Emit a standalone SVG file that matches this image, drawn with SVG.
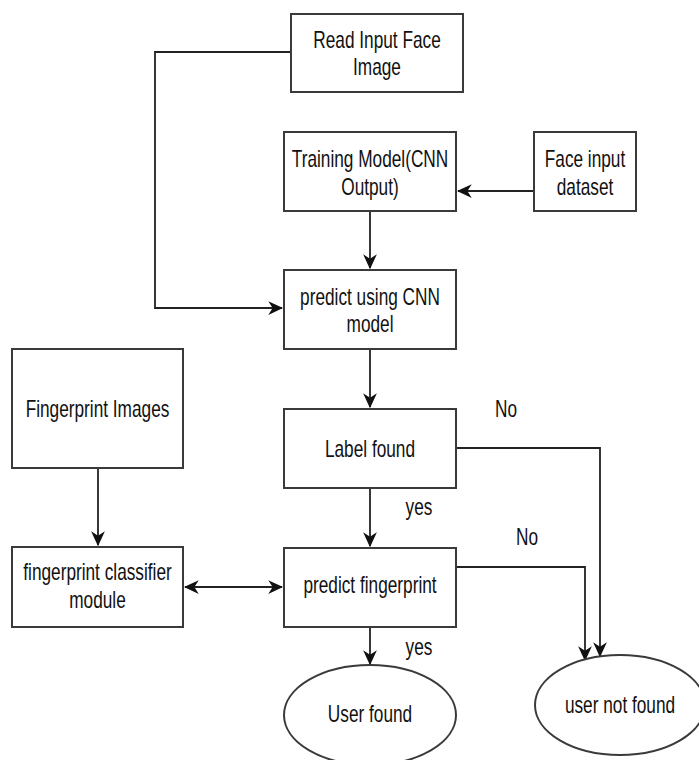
<svg xmlns="http://www.w3.org/2000/svg" width="699" height="760" viewBox="0 0 699 760">
<defs>
<marker id="arr" markerUnits="userSpaceOnUse" markerWidth="15" markerHeight="15" viewBox="0 0 12 12" refX="11" refY="6" orient="auto-start-reverse">
<path d="M0,0.5 L12,6 L0,11.5 L3.5,6 z" fill="#111"/>
</marker>
<style>
.box{fill:#fff;stroke:#3a3a3a;stroke-width:2}
.t{font-family:"Liberation Sans",Arial,sans-serif;font-size:23px;fill:#111;text-anchor:middle}
.c{fill:none;stroke:#222;stroke-width:1.8}
</style>
</defs>
<rect width="699" height="760" fill="#fff"/>
<g id="connectors">
<path class="c" d="M291,52 H155 V308 H282" marker-end="url(#arr)"/>
<path class="c" d="M534,191 H458" marker-end="url(#arr)"/>
<path class="c" d="M370,211 V268" marker-end="url(#arr)"/>
<path class="c" d="M370,349 V407" marker-end="url(#arr)"/>
<path class="c" d="M370,488 V546" marker-end="url(#arr)"/>
<path class="c" d="M370,627 V664" marker-end="url(#arr)"/>
<path class="c" d="M98,468 V545" marker-end="url(#arr)"/>
<path class="c" d="M185,587 H282" marker-start="url(#arr)" marker-end="url(#arr)"/>
<path class="c" d="M456,448 H600 V656" marker-end="url(#arr)"/>
<path class="c" d="M456,567 H585 V660" marker-end="url(#arr)"/>
<g id="edge-labels">
<text class="t" transform="translate(506,417) scale(0.75,1)">No</text>
<text class="t" transform="translate(419,515) scale(0.75,1)">yes</text>
<text class="t" transform="translate(527,545) scale(0.75,1)">No</text>
<text class="t" transform="translate(419,655) scale(0.75,1)">yes</text>
</g>
</g>
<g id="read-input">
<rect class="box" x="291" y="14" width="172" height="78"/>
<text class="t" transform="translate(377,48) scale(0.75,1)">Read Input Face</text>
<text class="t" transform="translate(377,75) scale(0.75,1)">Image</text>
</g>
<g id="training">
<rect class="box" x="284" y="132" width="172" height="79"/>
<text class="t" transform="translate(370,167) scale(0.75,1)">Training Model(CNN</text>
<text class="t" transform="translate(370,195) scale(0.75,1)">Output)</text>
</g>
<g id="face-dataset">
<rect class="box" x="534" y="132" width="102" height="79"/>
<text class="t" transform="translate(585,167) scale(0.75,1)">Face input</text>
<text class="t" transform="translate(585,195) scale(0.75,1)">dataset</text>
</g>
<g id="predict-cnn">
<rect class="box" x="284" y="270" width="172" height="79"/>
<text class="t" transform="translate(370,305) scale(0.75,1)">predict using CNN</text>
<text class="t" transform="translate(370,332) scale(0.75,1)">model</text>
</g>
<g id="fingerprint-images">
<rect class="box" x="12" y="349" width="171" height="119"/>
<text class="t" transform="translate(97.5,417) scale(0.75,1)">Fingerprint Images</text>
</g>
<g id="label-found">
<rect class="box" x="284" y="409" width="172" height="79"/>
<text class="t" transform="translate(370,457) scale(0.75,1)">Label found</text>
</g>
<g id="fp-classifier">
<rect class="box" x="12" y="547" width="171" height="80"/>
<text class="t" transform="translate(97.5,580) scale(0.75,1)">fingerprint classifier</text>
<text class="t" transform="translate(97.5,608) scale(0.75,1)">module</text>
</g>
<g id="predict-fp">
<rect class="box" x="284" y="548" width="172" height="79"/>
<text class="t" transform="translate(370,593) scale(0.75,1)">predict fingerprint</text>
</g>
<g id="user-found">
<ellipse class="box" cx="370" cy="715" rx="86" ry="50"/>
<text class="t" transform="translate(370,722) scale(0.75,1)">User found</text>
</g>
<g id="user-not-found">
<ellipse class="box" cx="620" cy="705" rx="85" ry="50"/>
<text class="t" transform="translate(620,713) scale(0.75,1)">user not found</text>
</g>
</svg>
